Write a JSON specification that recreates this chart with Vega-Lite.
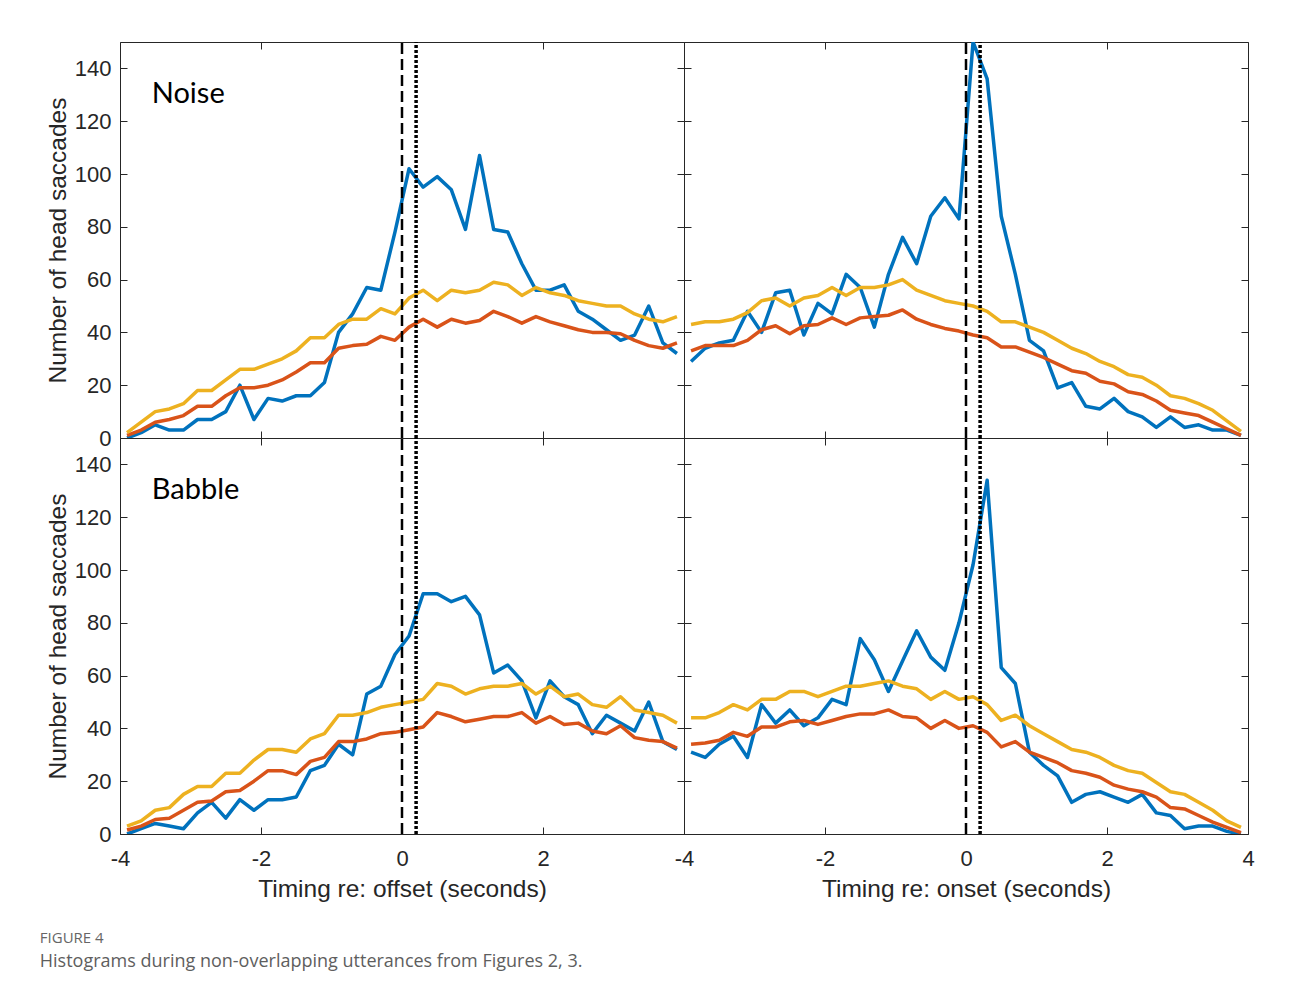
{
  "$schema": "https://vega.github.io/schema/vega-lite/v6.json",
  "padding": {"left": 39, "top": 39, "right": 5, "bottom": 5},
  "background": "white",
  "config": {
    "view": {"stroke": "#262626", "strokeWidth": 1},
    "axis": {"grid": false, "domain": false, "tickColor": "#262626", "tickSize": -7, "tickWidth": 1,
      "labelFont": "Liberation Sans", "labelFontSize": 22, "labelColor": "#262626",
      "titleFont": "Liberation Sans", "titleFontSize": 24.5, "titleFontWeight": "normal", "titleColor": "#262626",
      "labelFlush": false, "labelOverlap": false}
  },
  "title": {
    "text": "FIGURE 4",
    "subtitle": "Histograms during non-overlapping utterances from Figures 2, 3.",
    "orient": "bottom", "anchor": "start", "offset": 30, "dx": -5,
    "font": "Open Sans", "fontSize": 15, "fontWeight": 500, "color": "#666666",
    "subtitleFont": "Open Sans", "subtitleFontSize": 18, "subtitleColor": "#5e5e5e", "subtitlePadding": 7
  },
  "datasets": {
    "noiseOffset": [
      {"t":-3.9,"blue":0,"red":1,"yellow":2},
      {"t":-3.7,"blue":2,"red":3,"yellow":6},
      {"t":-3.5,"blue":5,"red":6,"yellow":10},
      {"t":-3.3,"blue":3,"red":7,"yellow":11},
      {"t":-3.1,"blue":3,"red":8.5,"yellow":13},
      {"t":-2.9,"blue":7,"red":12,"yellow":18},
      {"t":-2.7,"blue":7,"red":12,"yellow":18},
      {"t":-2.5,"blue":10,"red":16,"yellow":22},
      {"t":-2.3,"blue":20,"red":19,"yellow":26},
      {"t":-2.1,"blue":7,"red":19,"yellow":26},
      {"t":-1.9,"blue":15,"red":20,"yellow":28},
      {"t":-1.7,"blue":14,"red":22,"yellow":30},
      {"t":-1.5,"blue":16,"red":25,"yellow":33},
      {"t":-1.3,"blue":16,"red":28.5,"yellow":38},
      {"t":-1.1,"blue":21,"red":28.5,"yellow":38},
      {"t":-0.9,"blue":40,"red":34,"yellow":43},
      {"t":-0.7,"blue":47,"red":35,"yellow":45},
      {"t":-0.5,"blue":57,"red":35.5,"yellow":45},
      {"t":-0.3,"blue":56,"red":38.5,"yellow":49},
      {"t":-0.1,"blue":78,"red":37,"yellow":47},
      {"t":0.1,"blue":102,"red":42,"yellow":53},
      {"t":0.3,"blue":95,"red":45,"yellow":56},
      {"t":0.5,"blue":99,"red":42,"yellow":52},
      {"t":0.7,"blue":94,"red":45,"yellow":56},
      {"t":0.9,"blue":79,"red":43.5,"yellow":55},
      {"t":1.1,"blue":107,"red":44.5,"yellow":56},
      {"t":1.3,"blue":79,"red":48,"yellow":59},
      {"t":1.5,"blue":78,"red":46,"yellow":58},
      {"t":1.7,"blue":66,"red":43.5,"yellow":54},
      {"t":1.9,"blue":56,"red":46,"yellow":57},
      {"t":2.1,"blue":56,"red":44,"yellow":55},
      {"t":2.3,"blue":58,"red":42.5,"yellow":54},
      {"t":2.5,"blue":48,"red":41,"yellow":52},
      {"t":2.7,"blue":45,"red":40,"yellow":51},
      {"t":2.9,"blue":41,"red":40,"yellow":50},
      {"t":3.1,"blue":37,"red":39.5,"yellow":50},
      {"t":3.3,"blue":39,"red":37,"yellow":47},
      {"t":3.5,"blue":50,"red":35,"yellow":45},
      {"t":3.7,"blue":36,"red":34,"yellow":44},
      {"t":3.9,"blue":32,"red":36,"yellow":46}
    ],
    "noiseOnset": [
      {"t":-3.9,"blue":29,"red":33,"yellow":43},
      {"t":-3.7,"blue":34,"red":35,"yellow":44},
      {"t":-3.5,"blue":36,"red":35,"yellow":44},
      {"t":-3.3,"blue":37,"red":35,"yellow":45},
      {"t":-3.1,"blue":48,"red":37,"yellow":47.5},
      {"t":-2.9,"blue":40,"red":41,"yellow":52},
      {"t":-2.7,"blue":55,"red":42.5,"yellow":53},
      {"t":-2.5,"blue":56,"red":39.5,"yellow":50},
      {"t":-2.3,"blue":39,"red":42.5,"yellow":53},
      {"t":-2.1,"blue":51,"red":43,"yellow":54},
      {"t":-1.9,"blue":47,"red":45.5,"yellow":57},
      {"t":-1.7,"blue":62,"red":43,"yellow":54},
      {"t":-1.5,"blue":57,"red":45.5,"yellow":57},
      {"t":-1.3,"blue":42,"red":46,"yellow":57},
      {"t":-1.1,"blue":62,"red":46.5,"yellow":58},
      {"t":-0.9,"blue":76,"red":48.5,"yellow":60},
      {"t":-0.7,"blue":66,"red":45,"yellow":56},
      {"t":-0.5,"blue":84,"red":43,"yellow":54},
      {"t":-0.3,"blue":91,"red":41.5,"yellow":52},
      {"t":-0.1,"blue":83,"red":40.5,"yellow":51},
      {"t":0.1,"blue":150,"red":39,"yellow":50},
      {"t":0.3,"blue":136,"red":38,"yellow":48},
      {"t":0.5,"blue":84,"red":34.5,"yellow":44},
      {"t":0.7,"blue":62,"red":34.5,"yellow":44},
      {"t":0.9,"blue":37,"red":32.5,"yellow":42},
      {"t":1.1,"blue":33,"red":30.5,"yellow":40},
      {"t":1.3,"blue":19,"red":28,"yellow":37},
      {"t":1.5,"blue":21,"red":25.5,"yellow":34},
      {"t":1.7,"blue":12,"red":24.5,"yellow":32},
      {"t":1.9,"blue":11,"red":21.5,"yellow":29},
      {"t":2.1,"blue":15,"red":20.5,"yellow":27},
      {"t":2.3,"blue":10,"red":17.5,"yellow":24},
      {"t":2.5,"blue":8,"red":16.5,"yellow":23},
      {"t":2.7,"blue":4,"red":14,"yellow":20},
      {"t":2.9,"blue":8,"red":10.5,"yellow":16},
      {"t":3.1,"blue":4,"red":9.5,"yellow":15},
      {"t":3.3,"blue":5,"red":8.5,"yellow":13},
      {"t":3.5,"blue":3,"red":6,"yellow":10.5},
      {"t":3.7,"blue":3,"red":3.5,"yellow":6.5},
      {"t":3.9,"blue":1,"red":1,"yellow":2.5}
    ],
    "babbleOffset": [
      {"t":-3.9,"blue":0,"red":1.5,"yellow":3},
      {"t":-3.7,"blue":2,"red":3,"yellow":5},
      {"t":-3.5,"blue":4,"red":5.5,"yellow":9},
      {"t":-3.3,"blue":3,"red":6,"yellow":10},
      {"t":-3.1,"blue":2,"red":9,"yellow":15},
      {"t":-2.9,"blue":8,"red":12,"yellow":18},
      {"t":-2.7,"blue":12,"red":12.5,"yellow":18},
      {"t":-2.5,"blue":6,"red":16,"yellow":23},
      {"t":-2.3,"blue":13,"red":16.5,"yellow":23},
      {"t":-2.1,"blue":9,"red":20,"yellow":28},
      {"t":-1.9,"blue":13,"red":24,"yellow":32},
      {"t":-1.7,"blue":13,"red":24,"yellow":32},
      {"t":-1.5,"blue":14,"red":22.5,"yellow":31},
      {"t":-1.3,"blue":24,"red":27.5,"yellow":36},
      {"t":-1.1,"blue":26,"red":29,"yellow":38},
      {"t":-0.9,"blue":34,"red":35,"yellow":45},
      {"t":-0.7,"blue":30,"red":35,"yellow":45},
      {"t":-0.5,"blue":53,"red":36,"yellow":46},
      {"t":-0.3,"blue":56,"red":38,"yellow":48},
      {"t":-0.1,"blue":68,"red":38.5,"yellow":49},
      {"t":0.1,"blue":75,"red":39.5,"yellow":50},
      {"t":0.3,"blue":91,"red":40.5,"yellow":51},
      {"t":0.5,"blue":91,"red":46,"yellow":57},
      {"t":0.7,"blue":88,"red":44.5,"yellow":56},
      {"t":0.9,"blue":90,"red":42.5,"yellow":53},
      {"t":1.1,"blue":83,"red":43.5,"yellow":55},
      {"t":1.3,"blue":61,"red":44.5,"yellow":56},
      {"t":1.5,"blue":64,"red":44.5,"yellow":56},
      {"t":1.7,"blue":58,"red":46,"yellow":57},
      {"t":1.9,"blue":44,"red":42,"yellow":53},
      {"t":2.1,"blue":58,"red":44.5,"yellow":56},
      {"t":2.3,"blue":52,"red":41.5,"yellow":52},
      {"t":2.5,"blue":49,"red":42,"yellow":53},
      {"t":2.7,"blue":38,"red":39,"yellow":49},
      {"t":2.9,"blue":45,"red":38,"yellow":48},
      {"t":3.1,"blue":42,"red":41,"yellow":52},
      {"t":3.3,"blue":39,"red":36.5,"yellow":47},
      {"t":3.5,"blue":50,"red":35.5,"yellow":46},
      {"t":3.7,"blue":35,"red":35,"yellow":45},
      {"t":3.9,"blue":32,"red":32.5,"yellow":42}
    ],
    "babbleOnset": [
      {"t":-3.9,"blue":31,"red":34,"yellow":44},
      {"t":-3.7,"blue":29,"red":34.5,"yellow":44},
      {"t":-3.5,"blue":34,"red":35.5,"yellow":46},
      {"t":-3.3,"blue":37,"red":38.5,"yellow":49},
      {"t":-3.1,"blue":29,"red":37,"yellow":47},
      {"t":-2.9,"blue":49,"red":40.5,"yellow":51},
      {"t":-2.7,"blue":42,"red":40.5,"yellow":51},
      {"t":-2.5,"blue":47,"red":42.5,"yellow":54},
      {"t":-2.3,"blue":41,"red":43,"yellow":54},
      {"t":-2.1,"blue":44,"red":41.5,"yellow":52},
      {"t":-1.9,"blue":51,"red":43,"yellow":54},
      {"t":-1.7,"blue":49,"red":44.5,"yellow":56},
      {"t":-1.5,"blue":74,"red":45.5,"yellow":56},
      {"t":-1.3,"blue":66,"red":45.5,"yellow":57},
      {"t":-1.1,"blue":54,"red":47,"yellow":58},
      {"t":-0.9,"blue":65.5,"red":44.5,"yellow":56},
      {"t":-0.7,"blue":77,"red":44,"yellow":55},
      {"t":-0.5,"blue":67,"red":40,"yellow":51},
      {"t":-0.3,"blue":62,"red":43,"yellow":54},
      {"t":-0.1,"blue":80,"red":40,"yellow":51},
      {"t":0.1,"blue":102,"red":41,"yellow":52},
      {"t":0.3,"blue":134,"red":38.5,"yellow":49},
      {"t":0.5,"blue":63,"red":33,"yellow":43},
      {"t":0.7,"blue":57,"red":35,"yellow":45},
      {"t":0.9,"blue":31,"red":31,"yellow":41},
      {"t":1.1,"blue":26,"red":29,"yellow":38},
      {"t":1.3,"blue":22,"red":27,"yellow":35},
      {"t":1.5,"blue":12,"red":24,"yellow":32},
      {"t":1.7,"blue":15,"red":23,"yellow":31},
      {"t":1.9,"blue":16,"red":21.5,"yellow":29},
      {"t":2.1,"blue":14,"red":18.5,"yellow":26},
      {"t":2.3,"blue":12,"red":17,"yellow":24},
      {"t":2.5,"blue":15,"red":16,"yellow":23},
      {"t":2.7,"blue":8,"red":14,"yellow":19.5},
      {"t":2.9,"blue":7,"red":10,"yellow":16},
      {"t":3.1,"blue":2,"red":9.5,"yellow":15},
      {"t":3.3,"blue":3,"red":7,"yellow":12},
      {"t":3.5,"blue":3,"red":4.5,"yellow":9},
      {"t":3.7,"blue":1,"red":2.5,"yellow":5},
      {"t":3.9,"blue":0,"red":0.5,"yellow":2.5}
    ],
    "markers": [{"pos":0,"kind":"dashed"},{"pos":0.2,"kind":"dotted"}]
  },
  "columns": 2,
  "spacing": 0,
  "bounds": "flush",
  "concat": [
    {
      "width": 564, "height": 396,
      "resolve": {"axis": {"x": "independent", "y": "independent"}},
      "layer": [
        {
          "data": {"name": "noiseOffset"},
          "transform": [{"fold": ["blue", "red", "yellow"], "as": ["series", "count"]}],
          "mark": {"type": "line", "strokeWidth": 3.5, "strokeJoin": "round", "clip": true},
          "encoding": {
            "x": {"field": "t", "type": "quantitative", "scale": {"domain": [-4, 4], "nice": false, "zero": false},
              "axis": {"orient": "bottom", "values": [-4, -2, 0, 2, 4], "labels": false, "title": null}},
            "y": {"field": "count", "type": "quantitative", "scale": {"domain": [0, 150], "nice": false},
              "axis": {"orient": "left", "values": [0, 20, 40, 60, 80, 100, 120, 140], "labelPadding": 16, "title": "Number of head saccades", "titlePadding": 4}},
            "color": {"field": "series", "type": "nominal", "scale": {"domain": ["blue", "red", "yellow"], "range": ["#0072BD", "#D95319", "#EDB120"]}, "legend": null}
          }
        },
        {
          "data": {"name": "markers"},
          "mark": {"type": "rule", "color": "#000000"},
          "encoding": {
            "x": {"field": "pos", "type": "quantitative", "scale": {"domain": [-4, 4], "nice": false, "zero": false},
              "axis": {"orient": "top", "values": [-4, -2, 0, 2, 4], "labels": false, "title": null}},
            "y": {"datum": 0, "type": "quantitative", "scale": {"domain": [0, 150], "nice": false},
              "axis": {"orient": "right", "values": [0, 20, 40, 60, 80, 100, 120, 140], "labels": false, "title": null}},
            "y2": {"datum": 150},
            "strokeDash": {"field": "kind", "type": "nominal", "scale": {"domain": ["dashed", "dotted"], "range": [[11, 5], [3, 2]]}, "legend": null},
            "size": {"field": "kind", "type": "ordinal", "scale": {"domain": ["dashed", "dotted"], "range": [2.5, 3.5]}, "legend": null}
          }
        },
        {
          "data": {"values": [{"label": "Noise"}]},
          "mark": {"type": "text", "font": "Lato", "fontSize": 29, "align": "left", "baseline": "alphabetic", "color": "#000000"},
          "encoding": {
            "x": {"datum": -3.55, "type": "quantitative", "axis": null},
            "y": {"datum": 127, "type": "quantitative", "axis": null},
            "text": {"field": "label"}
          }
        }
      ]
    },
    {
      "width": 564, "height": 396,
      "resolve": {"axis": {"x": "independent", "y": "independent"}},
      "layer": [
        {
          "data": {"name": "noiseOnset"},
          "transform": [{"fold": ["blue", "red", "yellow"], "as": ["series", "count"]}],
          "mark": {"type": "line", "strokeWidth": 3.5, "strokeJoin": "round", "clip": true},
          "encoding": {
            "x": {"field": "t", "type": "quantitative", "scale": {"domain": [-4, 4], "nice": false, "zero": false},
              "axis": {"orient": "bottom", "values": [-4, -2, 0, 2, 4], "labels": false, "title": null}},
            "y": {"field": "count", "type": "quantitative", "scale": {"domain": [0, 150], "nice": false},
              "axis": {"orient": "left", "values": [0, 20, 40, 60, 80, 100, 120, 140], "labels": false, "title": null}},
            "color": {"field": "series", "type": "nominal", "scale": {"domain": ["blue", "red", "yellow"], "range": ["#0072BD", "#D95319", "#EDB120"]}, "legend": null}
          }
        },
        {
          "data": {"name": "markers"},
          "mark": {"type": "rule", "color": "#000000"},
          "encoding": {
            "x": {"field": "pos", "type": "quantitative", "scale": {"domain": [-4, 4], "nice": false, "zero": false},
              "axis": {"orient": "top", "values": [-4, -2, 0, 2, 4], "labels": false, "title": null}},
            "y": {"datum": 0, "type": "quantitative", "scale": {"domain": [0, 150], "nice": false},
              "axis": {"orient": "right", "values": [0, 20, 40, 60, 80, 100, 120, 140], "labels": false, "title": null}},
            "y2": {"datum": 150},
            "strokeDash": {"field": "kind", "type": "nominal", "scale": {"domain": ["dashed", "dotted"], "range": [[11, 5], [3, 2]]}, "legend": null},
            "size": {"field": "kind", "type": "ordinal", "scale": {"domain": ["dashed", "dotted"], "range": [2.5, 3.5]}, "legend": null}
          }
        }
      ]
    },
    {
      "width": 564, "height": 396,
      "resolve": {"axis": {"x": "independent", "y": "independent"}},
      "layer": [
        {
          "data": {"name": "babbleOffset"},
          "transform": [{"fold": ["blue", "red", "yellow"], "as": ["series", "count"]}],
          "mark": {"type": "line", "strokeWidth": 3.5, "strokeJoin": "round", "clip": true},
          "encoding": {
            "x": {"field": "t", "type": "quantitative", "scale": {"domain": [-4, 4], "nice": false, "zero": false},
              "axis": {"orient": "bottom", "values": [-4, -2, 0, 2, 4], "labelExpr": "datum.value == 4 ? '' : '' + datum.value", "labelPadding": 21, "title": "Timing re: offset (seconds)", "titlePadding": 8}},
            "y": {"field": "count", "type": "quantitative", "scale": {"domain": [0, 150], "nice": false},
              "axis": {"orient": "left", "values": [0, 20, 40, 60, 80, 100, 120, 140], "labelPadding": 16, "title": "Number of head saccades", "titlePadding": 4}},
            "color": {"field": "series", "type": "nominal", "scale": {"domain": ["blue", "red", "yellow"], "range": ["#0072BD", "#D95319", "#EDB120"]}, "legend": null}
          }
        },
        {
          "data": {"name": "markers"},
          "mark": {"type": "rule", "color": "#000000"},
          "encoding": {
            "x": {"field": "pos", "type": "quantitative", "scale": {"domain": [-4, 4], "nice": false, "zero": false},
              "axis": {"orient": "top", "values": [-4, -2, 0, 2, 4], "labels": false, "title": null}},
            "y": {"datum": 0, "type": "quantitative", "scale": {"domain": [0, 150], "nice": false},
              "axis": {"orient": "right", "values": [0, 20, 40, 60, 80, 100, 120, 140], "labels": false, "title": null}},
            "y2": {"datum": 150},
            "strokeDash": {"field": "kind", "type": "nominal", "scale": {"domain": ["dashed", "dotted"], "range": [[11, 5], [3, 2]]}, "legend": null},
            "size": {"field": "kind", "type": "ordinal", "scale": {"domain": ["dashed", "dotted"], "range": [2.5, 3.5]}, "legend": null}
          }
        },
        {
          "data": {"values": [{"label": "Babble"}]},
          "mark": {"type": "text", "font": "Lato", "fontSize": 29, "align": "left", "baseline": "alphabetic", "color": "#000000"},
          "encoding": {
            "x": {"datum": -3.55, "type": "quantitative", "axis": null},
            "y": {"datum": 127, "type": "quantitative", "axis": null},
            "text": {"field": "label"}
          }
        }
      ]
    },
    {
      "width": 564, "height": 396,
      "resolve": {"axis": {"x": "independent", "y": "independent"}},
      "layer": [
        {
          "data": {"name": "babbleOnset"},
          "transform": [{"fold": ["blue", "red", "yellow"], "as": ["series", "count"]}],
          "mark": {"type": "line", "strokeWidth": 3.5, "strokeJoin": "round", "clip": true},
          "encoding": {
            "x": {"field": "t", "type": "quantitative", "scale": {"domain": [-4, 4], "nice": false, "zero": false},
              "axis": {"orient": "bottom", "values": [-4, -2, 0, 2, 4], "labelExpr": "'' + datum.value", "labelPadding": 21, "title": "Timing re: onset (seconds)", "titlePadding": 8}},
            "y": {"field": "count", "type": "quantitative", "scale": {"domain": [0, 150], "nice": false},
              "axis": {"orient": "left", "values": [0, 20, 40, 60, 80, 100, 120, 140], "labels": false, "title": null}},
            "color": {"field": "series", "type": "nominal", "scale": {"domain": ["blue", "red", "yellow"], "range": ["#0072BD", "#D95319", "#EDB120"]}, "legend": null}
          }
        },
        {
          "data": {"name": "markers"},
          "mark": {"type": "rule", "color": "#000000"},
          "encoding": {
            "x": {"field": "pos", "type": "quantitative", "scale": {"domain": [-4, 4], "nice": false, "zero": false},
              "axis": {"orient": "top", "values": [-4, -2, 0, 2, 4], "labels": false, "title": null}},
            "y": {"datum": 0, "type": "quantitative", "scale": {"domain": [0, 150], "nice": false},
              "axis": {"orient": "right", "values": [0, 20, 40, 60, 80, 100, 120, 140], "labels": false, "title": null}},
            "y2": {"datum": 150},
            "strokeDash": {"field": "kind", "type": "nominal", "scale": {"domain": ["dashed", "dotted"], "range": [[11, 5], [3, 2]]}, "legend": null},
            "size": {"field": "kind", "type": "ordinal", "scale": {"domain": ["dashed", "dotted"], "range": [2.5, 3.5]}, "legend": null}
          }
        }
      ]
    }
  ]
}
